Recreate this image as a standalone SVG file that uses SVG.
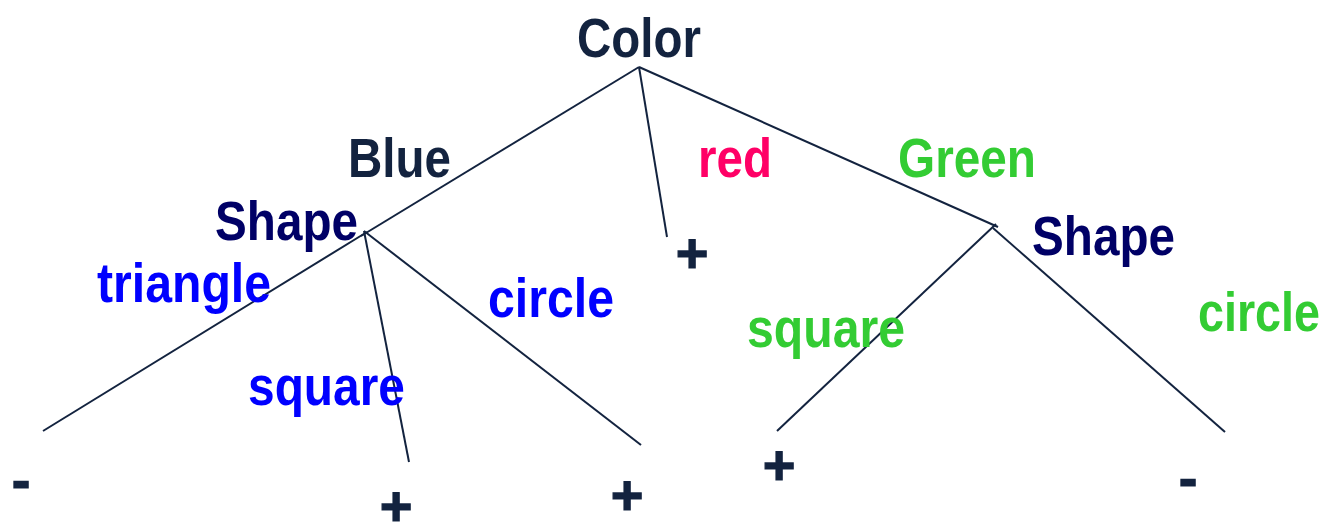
<svg xmlns="http://www.w3.org/2000/svg" width="1326" height="522" viewBox="0 0 1326 522">
<style>
text{font-family:"Liberation Sans",Arial,sans-serif;font-weight:bold;font-size:56px}
.dark{fill:#13233f}
.navy{fill:#000066}
.blue{fill:#0000ff}
.red{fill:#ff0066}
.green{fill:#33cc33}
.leaf{fill:#13233f;stroke:#13233f;stroke-width:1.2}
.edge{stroke:#13233f;stroke-width:2;fill:none}
</style>
<rect width="1326" height="522" fill="#ffffff"/>
<g id="connectors">
<line class="edge" x1="639" y1="67" x2="361" y2="236"/>
<line class="edge" x1="639" y1="67" x2="667" y2="237"/>
<line class="edge" x1="639" y1="67" x2="998" y2="227"/>
<line class="edge" x1="367" y1="232" x2="43" y2="431"/>
<line class="edge" x1="364" y1="231" x2="409" y2="462"/>
<line class="edge" x1="364" y1="231" x2="641" y2="445"/>
<line class="edge" x1="996" y1="224" x2="777" y2="431"/>
<line class="edge" x1="993" y1="228" x2="1225" y2="432"/>
</g>
<g id="color"><text class="dark" x="577" y="57" textLength="124" lengthAdjust="spacingAndGlyphs">Color</text></g>
<g id="label-blue"><text class="dark" x="348" y="177" textLength="103" lengthAdjust="spacingAndGlyphs">Blue</text></g>
<g id="label-red"><text class="red" x="698" y="177" textLength="74" lengthAdjust="spacingAndGlyphs">red</text></g>
<g id="label-green"><text class="green" x="898" y="177" textLength="138" lengthAdjust="spacingAndGlyphs">Green</text></g>
<g id="shape-left"><text class="navy" x="215" y="240" textLength="143" lengthAdjust="spacingAndGlyphs">Shape</text></g>
<g id="shape-right"><text class="navy" x="1032" y="255" textLength="143" lengthAdjust="spacingAndGlyphs">Shape</text></g>
<g id="label-triangle"><text class="blue" x="97" y="302" textLength="174" lengthAdjust="spacingAndGlyphs">triangle</text></g>
<g id="label-square-blue"><text class="blue" x="248" y="405" textLength="157" lengthAdjust="spacingAndGlyphs">square</text></g>
<g id="label-circle-blue"><text class="blue" x="488" y="317" textLength="126" lengthAdjust="spacingAndGlyphs">circle</text></g>
<g id="label-square-green"><text class="green" x="747" y="347" textLength="158" lengthAdjust="spacingAndGlyphs">square</text></g>
<g id="label-circle-green"><text class="green" x="1198" y="331" textLength="122" lengthAdjust="spacingAndGlyphs">circle</text></g>
<g id="leaf-red"><text class="leaf" x="692" y="272" text-anchor="middle">+</text></g>
<g id="leaf-triangle"><text class="leaf" x="21" y="499" text-anchor="middle">-</text></g>
<g id="leaf-square-blue"><text class="leaf" x="396" y="525" text-anchor="middle">+</text></g>
<g id="leaf-circle-blue"><text class="leaf" x="627" y="514" text-anchor="middle">+</text></g>
<g id="leaf-square-green"><text class="leaf" x="779" y="484" text-anchor="middle">+</text></g>
<g id="leaf-circle-green"><text class="leaf" x="1188" y="497" text-anchor="middle">-</text></g>
</svg>
